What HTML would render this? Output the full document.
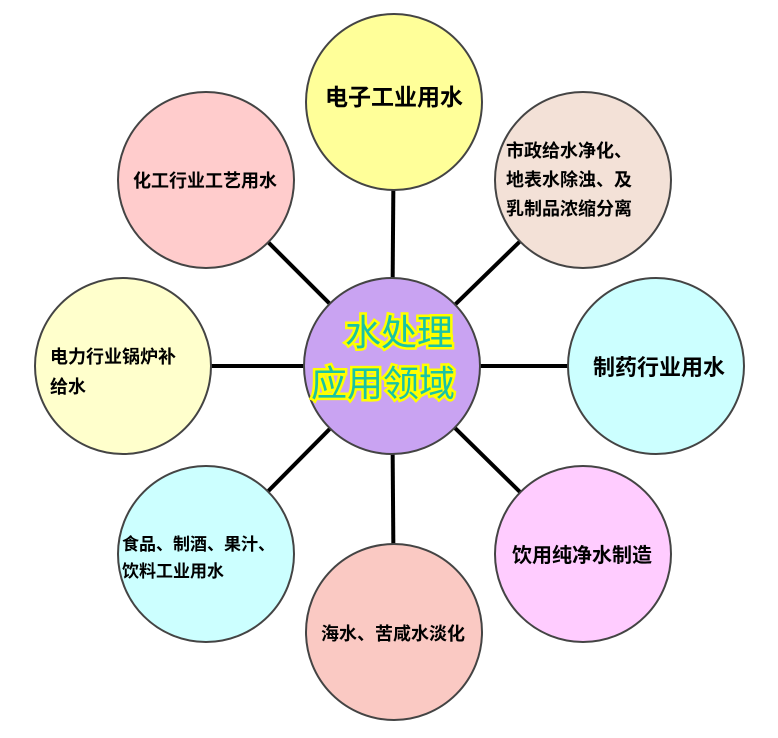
<!DOCTYPE html>
<html><head><meta charset="utf-8"><style>
body{margin:0;background:#fff;}
svg text{font-family:"Liberation Sans","Noto Sans CJK SC",sans-serif;font-weight:bold;fill:#000;}
svg text.c{fill:#19c3a5;font-weight:normal;stroke:#ffff00;stroke-width:5px;paint-order:stroke;}
</style></head><body>
<svg width="778" height="733" viewBox="0 0 778 733" xmlns="http://www.w3.org/2000/svg">
<g stroke="#000" stroke-width="4">
<line x1="392" y1="366" x2="394" y2="102"/>
<line x1="392" y1="366" x2="206" y2="180"/>
<line x1="392" y1="366" x2="583" y2="180"/>
<line x1="392" y1="366" x2="656" y2="366"/>
<line x1="392" y1="366" x2="123" y2="366"/>
<line x1="392" y1="366" x2="206" y2="554"/>
<line x1="392" y1="366" x2="394" y2="632"/>
<line x1="392" y1="366" x2="583" y2="554"/>
</g>
<g stroke="#444" stroke-width="2">
<circle cx="394" cy="102" r="88" fill="#ffff99"/>
<circle cx="206" cy="180" r="88" fill="#ffcccc"/>
<circle cx="583" cy="180" r="88" fill="#f3e1d7"/>
<circle cx="656" cy="366" r="88" fill="#ccffff"/>
<circle cx="123" cy="366" r="88" fill="#ffffcc"/>
<circle cx="206" cy="554" r="88" fill="#ccffff"/>
<circle cx="394" cy="632" r="88" fill="#fac9c3"/>
<circle cx="583" cy="554" r="88" fill="#ffccff"/>
<circle cx="392" cy="366" r="88" fill="#c9a3f2"/>
</g>
<text x="394" y="105" font-size="23" text-anchor="middle">电子工业用水</text>
<text x="205" y="187" font-size="18" text-anchor="middle">化工行业工艺用水</text>
<text x="506" y="157" font-size="18">市政给水净化、</text>
<text x="506" y="186" font-size="18">地表水除浊、及</text>
<text x="506" y="215" font-size="18">乳制品浓缩分离</text>
<text x="659" y="375" font-size="22" text-anchor="middle">制药行业用水</text>
<text x="50" y="363" font-size="18">电力行业锅炉补</text>
<text x="50" y="393" font-size="18">给水</text>
<text x="122" y="550" font-size="17">食品、制酒、果汁、</text>
<text x="122" y="577" font-size="17">饮料工业用水</text>
<text x="393" y="640" font-size="18" text-anchor="middle">海水、苦咸水淡化</text>
<text x="582" y="562" font-size="20" text-anchor="middle">饮用纯净水制造</text>
<text class="c" x="345" y="345" font-size="36">水处理</text>
<text class="c" x="311" y="396" font-size="36">应用领域</text>
</svg>
</body></html>
